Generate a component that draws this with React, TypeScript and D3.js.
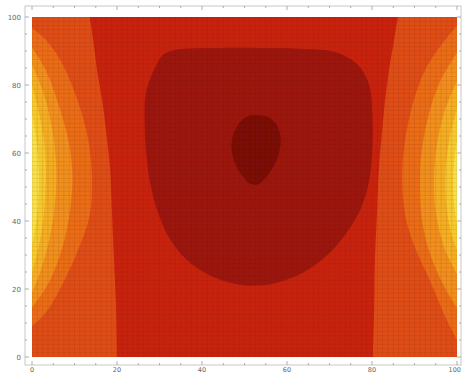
import React from 'react';
import * as d3 from 'd3';

type P = [number, number];

const W = 462;
const H = 373;

const xTicks = [0, 20, 40, 60, 80, 100];
const yTicks = [0, 20, 40, 60, 80, 100];
const minorStep = 5;

// Isolines, in data units [x, y]
// level 3: boundary of the red core (left and right sides, top to bottom)
const iso3Left: P[] = [[13.6, 100], [14.4, 93.2], [15.3, 84.4], [16.5, 75.6], [17.4, 66.8], [18.4, 55], [18.8, 43.2], [19.3, 28.5], [19.8, 13.8], [20, 0]];
const iso3Right: P[] = [[86.1, 100], [85.2, 93.2], [84, 84.4], [83.1, 75.6], [82.4, 66.8], [81.6, 55], [81.2, 43.2], [80.7, 28.5], [80.5, 13.8], [80.2, 0]];

// left-edge hot zone isolines (levels 4..8)
const iso4Left: P[] = [[0, 96.8], [3.1, 93.5], [6.8, 87], [10.3, 77], [13, 65.3], [14.1, 53.5], [13.6, 41.8], [11, 32], [7.2, 21.5], [3.2, 13], [0, 9]];
const iso5Left: P[] = [[0, 91], [3.2, 84.5], [6.3, 74], [8.7, 63], [9.5, 53.5], [9, 43.5], [7.2, 32.5], [4, 22], [0, 14.5]];
const iso6Left: P[] = [[0, 86], [2.6, 78], [4.6, 68], [5.7, 56], [5.4, 45], [3.8, 33], [1.5, 23.5], [0, 19]];
const iso7Left: P[] = [[0, 80], [1.8, 71], [3.1, 60], [3.2, 50], [2.4, 38], [0.9, 29], [0, 25]];
const iso8Left: P[] = [[0, 72], [1, 64], [1.6, 55], [1.5, 46], [0.8, 38], [0, 33]];

// right-edge hot zone isolines (levels 4..8)
const iso4Right: P[] = [[100, 97.4], [97.2, 93.2], [92.5, 84.4], [89.2, 72.6], [87.5, 60.9], [87.1, 52.1], [87.8, 41.8], [89.9, 32.9], [93.6, 22.6], [97.6, 10.9], [100, 5]];
const iso5Right: P[] = [[100, 89.5], [96, 81], [93.2, 70.5], [91.5, 58.5], [91.3, 49.1], [91.8, 40], [93.6, 30.5], [97.2, 20.2], [100, 14.5]];
const iso6Right: P[] = [[100, 81], [97, 72], [95.1, 61], [94.6, 50.6], [95.2, 41], [97.2, 31.5], [100, 24.5]];
const iso7Right: P[] = [[100, 73], [98.2, 64], [97.3, 54.5], [97.4, 46], [98.4, 37.5], [100, 31.5]];
const iso8Right: P[] = [[100, 64], [99.3, 57], [99.1, 50], [99.4, 44], [100, 39]];

// closed loops of the cold centre (levels 2 and 1)
const iso2Loop: P[] = [[33.6, 90.3], [44.2, 90.9], [53.6, 90.9], [64.2, 90.6], [71.3, 89.7], [76.7, 85.9], [79.3, 80], [80.1, 70], [80, 60], [79.2, 51], [77.3, 43.5], [74, 36.5], [69.5, 30], [64, 25], [58, 22], [52.5, 21], [47, 21.8], [41.5, 24.2], [36.5, 28.5], [32.3, 35], [29.5, 43], [27.7, 52], [26.8, 61], [26.5, 70], [26.8, 77.6], [28.9, 85], [30.8, 88.8]];
const iso1Loop: P[] = [[52.7, 71.2], [55.8, 70.4], [57.7, 68], [58.5, 64], [58.1, 60], [56.9, 56.3], [55.1, 53], [53.2, 50.8], [51.3, 51], [49.4, 53.5], [47.8, 57], [47, 61], [47.3, 65.2], [48.7, 68.6], [50.6, 70.7]];

// band colours, from coldest (0) to hottest (8)
const bandColors = ['#7b0c07', '#9c1509', '#c8240e', '#df4e15', '#ea6d18', '#f08f1e', '#f4ae24', '#f6c92e', '#f6e04c'];

export default function App() {
  const x = d3.scaleLinear().domain([0, 100]).range([32, 457]);
  const y = d3.scaleLinear().domain([0, 100]).range([357, 17]);

  const open = d3.line<P>().x(d => x(d[0])).y(d => y(d[1])).curve(d3.curveCatmullRom.alpha(0.5));
  const closed = d3.line<P>().x(d => x(d[0])).y(d => y(d[1])).curve(d3.curveCatmullRomClosed.alpha(0.5));

  const edgeBand = (pts: P[]) => (open(pts) || '') + 'Z';
  const redA = open(iso3Left) || '';
  const redB = open([...iso3Right].reverse()) || '';
  const redPath = redA + 'L' + redB.slice(1) + 'Z';

  const leftBands = [iso4Left, iso5Left, iso6Left, iso7Left, iso8Left];
  const rightBands = [iso4Right, iso5Right, iso6Right, iso7Right, iso8Right];

  const meshX = d3.range(0, 100.001, 1.25);
  const meshY = d3.range(0, 100.001, 1.25);

  const frame = { l: 25, r: 461, t: 6, b: 365 };
  const minors = d3.range(0, 100.001, minorStep);

  return (
    <svg width={W} height={H} style={{ position: 'fixed', left: 0, top: 0, background: '#fff' }} fontFamily="DejaVu Sans, sans-serif">
      <defs>
        <clipPath id="plotClip">
          <rect x={x(0)} y={y(100)} width={x(100) - x(0)} height={y(0) - y(100)} />
        </clipPath>
        <filter id="soft" x="-2%" y="-2%" width="104%" height="104%">
          <feGaussianBlur stdDeviation="0.6" />
        </filter>
      </defs>
      <g clipPath="url(#plotClip)">
        <g filter="url(#soft)">
          <rect x={x(0)} y={y(100)} width={x(100) - x(0)} height={y(0) - y(100)} fill={bandColors[3]} />
          {leftBands.map((b, i) => (
            <path key={'l' + i} d={edgeBand(b)} fill={bandColors[4 + i]} />
          ))}
          {rightBands.map((b, i) => (
            <path key={'r' + i} d={edgeBand(b)} fill={bandColors[4 + i]} />
          ))}
          <path d={redPath} fill={bandColors[2]} />
          <path d={closed(iso2Loop) || ''} fill={bandColors[1]} />
          <path d={closed(iso1Loop) || ''} fill={bandColors[0]} />
          {meshX.map(v => (
            <line key={'mx' + v} x1={x(v)} x2={x(v)} y1={y(0)} y2={y(100)} stroke="#400" strokeOpacity={0.12} strokeWidth={0.7} />
          ))}
          {meshY.map(v => (
            <line key={'my' + v} x1={x(0)} x2={x(100)} y1={y(v)} y2={y(v)} stroke="#400" strokeOpacity={0.12} strokeWidth={0.7} />
          ))}
        </g>
      </g>
      <rect x={frame.l} y={frame.t} width={frame.r - frame.l} height={frame.b - frame.t} fill="none" stroke="#c8c8c8" strokeWidth={1} />
      {minors.map(v => {
        const major = v % 20 === 0;
        const len = major ? 4 : 2;
        return (
          <g key={'t' + v} stroke="#999" strokeWidth={0.8}>
            <line x1={x(v)} x2={x(v)} y1={frame.b} y2={frame.b - len} />
            <line x1={x(v)} x2={x(v)} y1={frame.t} y2={frame.t + len} />
            <line x1={frame.l} x2={frame.l + len} y1={y(v)} y2={y(v)} />
            <line x1={frame.r} x2={frame.r - len} y1={y(v)} y2={y(v)} />
          </g>
        );
      })}
      {xTicks.map(t => (
        <text key={'xl' + t} x={x(t)} y={372} fontSize={6.5} fill="#666" textAnchor={t === 100 ? 'end' : 'middle'} dx={t === 100 ? 4 : 0}>{t}</text>
      ))}
      {yTicks.map(t => (
        <text key={'yl' + t} x={21} y={y(t) + 2.5} fontSize={7} fill="#666" textAnchor="end">{t}</text>
      ))}
    </svg>
  );
}
